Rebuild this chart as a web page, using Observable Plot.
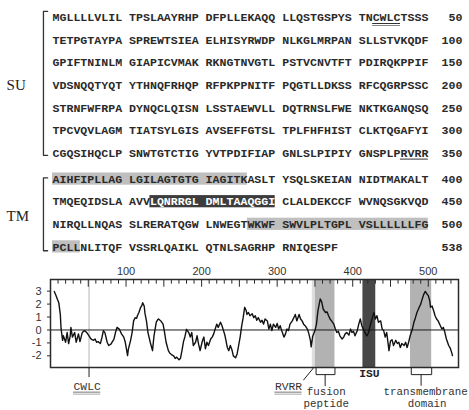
<!DOCTYPE html>
<html><head><meta charset="utf-8">
<script src="https://cdn.jsdelivr.net/npm/d3@7"></script>
<script src="https://cdn.jsdelivr.net/npm/@observablehq/plot@0.6"></script>
<style>
body{margin:0;background:#fff;}
#fig{width:469px;height:410px;overflow:hidden;background:#fff;}
#fig svg{display:block;overflow:visible;}
</style></head><body><div id="fig"></div>
<script>
// ---------- data ----------
const suRows = [
  "MGLLLLVLIL TPSLAAYRHP DFPLLEKAQQ LLQSTGSPYS TNCWLCTSSS",
  "TETPGTAYPA SPREWTSIEA ELHISYRWDP NLKGLMRPAN SLLSTVKQDF",
  "GPIFTNINLM GIAPICVMAK RKNGTNVGTL PSTVCNVTFT PDIRQKPPIF",
  "VDSNQQTYQT YTHNQFRHQP RFPKPPNITF PQGTLLDKSS RFCQGRPSSC",
  "STRNFWFRPA DYNQCLQISN LSSTAEWVLL DQTRNSLFWE NKTKGANQSQ",
  "TPCVQVLAGM TIATSYLGIS AVSEFFGTSL TPLFHFHIST CLKTQGAFYI",
  "CGQSIHQCLP SNWTGTCTIG YVTPDIFIAP GNLSLPIPIY GNSPLPRVRR"
];
const tmRows = [
  "AIHFIPLLAG LGILAGTGTG IAGITKASLT YSQLSKEIAN NIDTMAKALT",
  "TMQEQIDSLA AVVLQNRRGL DMLTAAQGGI CLALDEKCCF WVNQSGKVQD",
  "NIRQLLNQAS SLRERATQGW LNWEGTWKWF SWVLPLTGPL VSLLLLLLFG",
  "PCLLNLITQF VSSRLQAIKL QTNLSAGRHP RNIQESPF"
];
const rowEnds = [50,100,150,200,250,300,350,400,450,500,538];
const domainNames = ["SU","TM"];

// regions (residue numbers)
const regions = [
  {name:"fusion peptide", start:351, end:376, kind:"light"},
  {name:"ISU", start:414, end:430, kind:"dark"},
  {name:"transmembrane domain", start:477, end:504, kind:"light"}
];
const motifs = [
  {name:"CWLC", start:43, end:46},
  {name:"RVRR", start:347, end:350}
];
const cwlcMarker = 51;   // position of CWLC marker line in the profile

// hydropathy profile [residue, value]
const profile = [
[5,2.98],[7,2.7],[9,2.4],[11,2.1],[13,1.2],[14,0.1],[16,-0.8],[17,-0.45],[20,-0.95],[22,-0.2],
[24,-1.05],[26,-0.5],[27,0.2],[29,-0.55],[32,-0.2],[34,-0.95],[37,-0.3],[39,-0.9],[42,-0.2],[45,-0.05],
[48,-0.2],[51,-0.45],[53,-0.65],[55,-0.75],[57,-0.8],[59,-0.7],[61,-0.95],[63,-0.9],[66,-1.05],[68,-0.6],
[70,-0.05],[72,-0.2],[75,-0.95],[77,-1.2],[80,-1.1],[84,-0.7],[86,-0.2],[88,0.2],[91,0.07],[94,-0.3],
[97,-0.55],[99,-0.95],[102,-1.98],[103,-1.5],[106,-0.8],[108,-0.2],[110,0.7],[112,0.95],[114,0.9],[115,1.1],
[117,1.35],[119,1.7],[121,1.9],[122,2.1],[124,1.85],[125,1.3],[127,0.7],[129,-0.2],[132,-0.95],[135,-1.6],
[137,-0.45],[140,0.6],[142,0.8],[143,0.85],[146,0.7],[149,0.45],[151,-0.2],[153,-0.95],[156,-1.6],[158,-1.8],
[160,-1.9],[163,-2.0],[165,-2.2],[167,-2.1],[170,-2.3],[172,-2.2],[174,-1.6],[176,-0.9],[178,-0.5],[180,0.05],
[183,-0.2],[185,-0.55],[187,-0.2],[189,-1.2],[192,-0.95],[194,-0.45],[196,-1.1],[198,-1.6],[201,-0.85],[203,-0.55],
[205,-1.45],[207,-0.95],[209,-1.2],[212,-0.7],[214,-0.55],[216,-0.3],[218,0.07],[220,0.45],[222,0.2],[225,0.6],
[227,0.33],[229,-0.05],[231,-0.45],[234,-1.35],[236,-1.6],[238,-1.2],[240,-1.5],[242,-2.0],[245,-2.15],[247,-1.85],
[249,-1.2],[251,-0.55],[253,0.3],[255,0.95],[257,1.75],[259,1.5],[260,1.2],[262,1.35],[264,1.1],[267,1.25],
[269,0.95],[271,1.1],[273,0.75],[275,0.95],[278,0.6],[280,0.75],[282,0.45],[284,0.85],[287,0.7],[289,0.07],
[291,0.45],[293,-0.05],[295,0.45],[298,0.2],[300,0.5],[302,0.07],[304,0.33],[306,-0.05],[309,-0.55],[311,-0.3],
[313,0.07],[315,-0.05],[317,0.45],[320,0.7],[322,0.95],[324,1.2],[326,0.7],[329,1.2],[331,0.85],[333,0.7],
[335,0.45],[337,0.33],[340,0.07],[342,-0.3],[344,-0.8],[345,-1.3],[347,-0.5],[350,-0.05],[352,0.45],[354,1.5],
[357,2.4],[359,2.15],[361,1.6],[364,1.35],[366,1.4],[368,1.1],[370,0.85],[372,0.7],[375,0.45],[377,0.07],
[379,-0.2],[381,-0.1],[383,-0.45],[386,-0.7],[388,-0.55],[390,-0.3],[392,-0.2],[395,-0.4],[397,0.07],[399,-0.2],
[401,-0.1],[403,-0.45],[406,-0.05],[408,0.45],[410,0.85],[412,0.33],[414,0.07],[417,-0.3],[419,-0.45],[421,-0.2],
[423,0.33],[426,0.95],[428,1.35],[430,0.85],[432,1.1],[434,0.6],[437,0.7],[439,0.07],[441,-0.05],[443,-0.55],
[445,-0.2],[448,-1.6],[450,-0.85],[452,-0.75],[454,-1.2],[457,-0.8],[459,-1.05],[461,-0.95],[463,-1.35],[465,-1.05],
[468,-1.2],[470,-0.95],[472,-1.35],[474,-0.95],[476,-0.45],[479,0.07],[481,0.6],[483,0.95],[485,1.35],[488,1.75],
[490,2.0],[492,2.4],[494,2.75],[496,2.98],[498,2.8],[500,2.65],[502,2.25],[503,1.75],[505,1.85],[507,1.5],
[509,1.1],[511,0.85],[513,0.7],[516,0.33],[518,0.07],[520,0.2],[522,-0.2],[524,-0.7],[527,-1.2],[529,-1.4],
[531,-1.75],[532,-1.98]
];
const xTickLabels = [100,200,300,400,500];
const yTickLabels = [-2,-1,0,1,2,3];

// ---------- layout helpers ----------
const MONO = "Liberation Mono, Courier New, monospace";
const SERIF = "Liberation Serif, Times New Roman, serif";
const SANS = "Liberation Sans, Arial, sans-serif";
const CH = 6.96, RH = 22.6, TMGAP = 0.15;
const allRows = suRows.concat(tmRows);
const rowPos = r => r < suRows.length ? r : r + TMGAP;
const colOf = res => { const p = (res - 1) % 50; return p + Math.floor(p / 10); };
const rowOf = res => Math.floor((res - 1) / 50);
const inRegion = (res, kind) => regions.some(g => g.kind === kind && res >= g.start && res <= g.end);

// characters
const chars = [];
allRows.forEach((s, r) => {
  for (let k = 0; k < s.length; k++) {
    if (s[k] === " ") continue;
    const g = Math.floor(k / 11), i = k % 11;
    const res = r * 50 + g * 10 + i + 1;
    chars.push({row: r, col: k, ch: s[k], dark: inRegion(res, "dark")});
  }
});
function segments(start, end) {
  const out = [];
  let s = start;
  while (s <= end) {
    const r = rowOf(s);
    const e = Math.min(end, (r + 1) * 50);
    out.push({row: r, x1: colOf(s), x2: colOf(e) + 1});
    s = e + 1;
  }
  return out;
}
const boxes = regions.flatMap(g => segments(g.start, g.end).map(d => ({...d, fill: g.kind === "dark" ? "#3c3c3c" : "#bfbfbf"})));
const underl = motifs.flatMap(m => segments(m.start, m.end));

const brackets = [
  {name: domainNames[0], top: -0.27, bottom: suRows.length - 1 + 0.1},
  {name: domainNames[1], top: suRows.length + TMGAP - 0.05, bottom: rowPos(allRows.length - 1) + 0.17}
];
const bx = -1.3, bh = -0.7;
const bracketPts = brackets.flatMap(b => [
  {g: b.name, x: bh, y: b.top}, {g: b.name, x: bx, y: b.top},
  {g: b.name, x: bx, y: b.bottom}, {g: b.name, x: bh, y: b.bottom}]);

const seqPlot = Plot.plot({
  width: 469, height: 262, margin: 0,
  x: {type: "linear", domain: [-52 / CH, (469 - 52) / CH], range: [0, 469], axis: null},
  y: {type: "linear", domain: [-17 / RH, (262 - 17) / RH], range: [0, 262], axis: null},
  color: {type: "identity"},
  marks: [
    Plot.rect(boxes, {x1: "x1", x2: "x2", y1: d => rowPos(d.row) - 0.27, y2: d => rowPos(d.row) + 0.27, fill: "fill"}),
    Plot.text(chars, {x: d => d.col + 0.5, y: d => rowPos(d.row), text: "ch",
      fill: d => d.dark ? "#ffffff" : "#2a2a2a", fontFamily: MONO, fontSize: 11.6, fontWeight: "bold"}),
    Plot.text(rowEnds, {x: 58.9, y: (d, i) => rowPos(i), text: d => String(d), textAnchor: "end",
      fill: "#2a2a2a", fontFamily: MONO, fontSize: 11.6, fontWeight: "bold"}),
    Plot.ruleY(underl, {y: d => rowPos(d.row), x1: "x1", x2: "x2", dy: 6, stroke: "#333", strokeWidth: 1}),
    Plot.ruleY(underl.slice(0, 1), {y: d => rowPos(d.row), x1: "x1", x2: "x2", dy: 8, stroke: "#888", strokeWidth: 1}),
    Plot.line(bracketPts, {x: "x", y: "y", z: "g", stroke: "#333", strokeWidth: 1.3}),
    Plot.text(brackets, {x: -6.6, y: d => (d.top + d.bottom) / 2 + 0.07, text: "name", textAnchor: "start",
      fontFamily: SERIF, fontSize: 15, fill: "#222"})
  ]
});

// ---------- hydropathy plot ----------
const Y0 = -2.9, Y1 = 3.9;
const bands = [
  {start: motifs[1].start, end: motifs[1].end, shade: "#dedede"},
  ...regions.map(g => ({start: g.start, end: g.end, shade: g.kind === "dark" ? "#474747" : "#b2b2b2"}))
];
const minorTicks = d3.range(10, 540, 10);
const fus = regions[0], isu = regions[1], tmd = regions[2];
const mid = g => (g.start + g.end) / 2;
const brk = g => [{g: g.name, x: g.start + 0.5, y: Y0}, {g: g.name, x: g.start + 0.5, y: -3.45},
                  {g: g.name, x: g.end + 0.5, y: -3.45}, {g: g.name, x: g.end + 0.5, y: Y0}];
const stems = [{x: mid(fus), y1: -3.45, y2: -4.38}, {x: mid(tmd), y1: -3.45, y2: -4.35}, {x: cwlcMarker, y1: Y0, y2: -3.68}];
const motifLabels = [{t: motifs[0].name, x: cwlcMarker - 2.5}, {t: motifs[1].name, x: 315}];
const wordLabels = [
  {t: "fusion", x: mid(fus) + 1.5, y: -4.78}, {t: "peptide", x: mid(fus) + 1.5, y: -5.68},
  {t: "transmembrane", x: mid(tmd) + 6, y: -4.78}, {t: "domain", x: mid(tmd) + 8, y: -5.68}
];

const hydro = Plot.plot({
  width: 469, height: 148,
  marginTop: 17, marginBottom: 43, marginLeft: 50, marginRight: 11,
  x: {domain: [0, 540], axis: null},
  y: {domain: [Y0, Y1], axis: null},
  color: {type: "identity"},
  marks: [
    Plot.rect(bands, {x1: d => d.start - 0.5, x2: d => d.end + 0.5, y1: Y0, y2: Y1, fill: "shade"}),
    Plot.ruleX([cwlcMarker], {y1: Y0, y2: Y1, stroke: "#d2d2d2", strokeWidth: 1.6}),
    Plot.ruleY([0], {stroke: "#1a1a1a", strokeWidth: 1}),
    Plot.line(profile, {x: d => d[0], y: d => d[1], stroke: "#111", strokeWidth: 1.4}),
    Plot.frame({stroke: "#2a2a2a", strokeWidth: 1.5}),
    Plot.ruleX(minorTicks, {y1: Y1, y2: d => Y1 - (d % 50 === 0 ? 0.6 : 0.36), stroke: "#2a2a2a", strokeWidth: 1}),
    Plot.text(xTickLabels, {x: d => d, y: Y1, dy: -8, text: d => String(d), fontFamily: SANS, fontSize: 11, fill: "#333"}),
    Plot.ruleY(yTickLabels, {x1: -4, x2: 0, stroke: "#2a2a2a"}),
    Plot.text(yTickLabels, {x: 0, y: d => d, dx: -9, textAnchor: "end", text: d => String(d), fontFamily: SANS, fontSize: 11, fill: "#333"}),
    // annotations
    Plot.ruleX(stems, {x: "x", y1: "y1", y2: "y2", stroke: "#222", strokeWidth: 1}),
    Plot.line([...brk(fus), ...brk(tmd)], {x: "x", y: "y", z: "g", stroke: "#222", strokeWidth: 1}),
    Plot.line([{x: 335, y: -3.86}, {x: motifs[1].end - 1.5, y: Y0}], {x: "x", y: "y", stroke: "#222", strokeWidth: 1}),
    Plot.text(motifLabels, {x: "x", y: -4.38, text: "t", fontFamily: MONO, fontSize: 11.3, fill: "#333"}),
    Plot.ruleY(motifLabels, {y: -4.38, x1: d => d.x - 18, x2: d => d.x + 18, dy: 5.5, stroke: "#777"}),
    Plot.ruleY(motifLabels, {y: -4.38, x1: d => d.x - 18, x2: d => d.x + 18, dy: 7.5, stroke: "#aaa"}),
    Plot.text([isu], {x: mid(isu), y: -3.34, text: "name", fontFamily: MONO, fontSize: 11.3, fontWeight: "bold", fill: "#222"}),
    Plot.text(wordLabels, {x: "x", y: "y", text: "t", fontFamily: MONO, fontSize: 10.8, fill: "#333"})
  ]
});

const fig = document.getElementById("fig");
fig.appendChild(seqPlot);
fig.appendChild(hydro);
</script>
</body></html>
